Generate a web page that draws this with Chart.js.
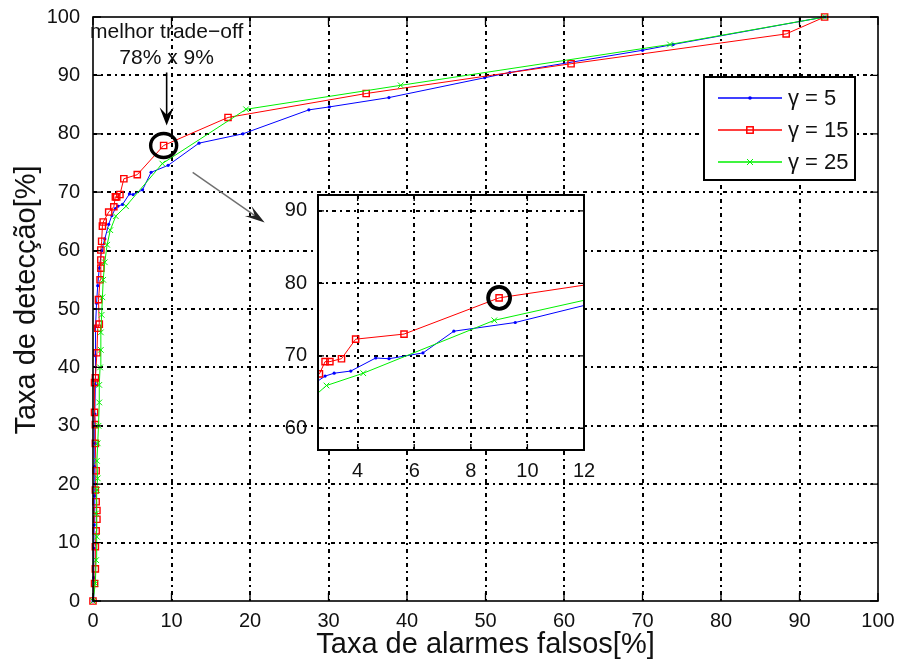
<!DOCTYPE html>
<html>
<head>
<meta charset="utf-8">
<script src="https://cdn.jsdelivr.net/npm/chart.js@4/dist/chart.umd.min.js"></script>
<style>
  html, body { margin: 0; padding: 0; background: #fff; }
  #wrap { position: relative; width: 900px; height: 665px; overflow: hidden; }
  #main { position: absolute; left: 0; top: 0; }
  #inset { position: absolute; left: 260px; top: 180px; }
</style>
</head>
<body>
<div id="wrap">
  <canvas id="main" width="900" height="665"></canvas>
  <canvas id="inset" width="340" height="305"></canvas>
</div>
<script>
// ROC-style curves: detection rate vs. false-alarm rate for three values of γ
const seriesLabels = ['γ = 5', 'γ = 15', 'γ = 25'];

// γ = 5
const falseAlarm5 = [0, 0.1, 0.1, 0.15, 0.2, 0.2, 0.25, 0.25, 0.3, 0.3, 0.35, 0.45, 0.6, 0.8, 1.1, 1.5, 2.0, 2.4,
  2.85, 3.17, 3.76, 4.64, 5.11, 6.31, 7.4, 9.57, 13.5, 19.1, 27.5, 30.1, 37.7, 49.9, 53.1, 70.0, 73.9, 93.2];
const detection5 = [0, 4, 9, 13, 18, 23, 27, 32, 37, 42, 47, 51, 54, 57, 60, 62, 64.5, 66,
  67.2, 67.6, 67.9, 69.7, 69.6, 70.4, 73.4, 74.6, 78.4, 80.0, 84.1, 84.6, 86.2, 89.6, 90.5, 94.3, 95.3, 100];

// γ = 15
const falseAlarm15 = [0, 0.2, 0.3, 0.3, 0.4, 0.5, 0.5, 0.4, 0.3, 0.4, 0.3, 0.3, 0.2, 0.2, 0.3, 0.5, 0.6, 0.8, 0.7,
  0.9, 1.0, 1.0, 1.0, 1.1, 1.2, 1.3, 2.0, 2.65, 2.85, 3.02, 3.43, 3.93, 5.64, 9, 17.2, 34.8, 60.9, 88.3, 93.2];
const detection15 = [0, 3, 5.5, 9.3, 12, 14, 15.5, 17, 19, 22.3, 27, 30.2, 32.3, 37.4, 38.2, 42.5, 46.7, 47.4, 51.6,
  55, 57, 58.4, 60.1, 61.6, 64.2, 64.9, 66.6, 67.5, 69.2, 69.2, 69.6, 72.3, 73.0, 78, 82.8, 86.9, 92.0, 97.1, 100];

// γ = 25
const falseAlarm25 = [0, 0.3, 0.4, 0.5, 0.4, 0.5, 0.6, 0.5, 0.6, 0.7, 0.8, 0.8, 0.9, 1.0, 1.0, 1.1, 1.2, 1.3,
  1.5, 1.8, 2.2, 2.9, 4.2, 8.83, 19.5, 39.2, 73.5, 93.2];
const detection25 = [0, 3, 7, 11, 15, 19, 21, 24, 27, 30, 34, 37, 40, 43, 46, 49, 52, 55,
  58, 61, 63.5, 65.9, 67.6, 74.9, 84.2, 88.3, 95.3, 100];

// highlighted operating point (detection 78 %, false alarms 9 %)
const bestFalseAlarm = 9;
const bestDetection = 78;
const bestLabel = ['melhor trade−off', '78% x 9%'];

// axis titles
const xTitle = 'Taxa de alarmes falsos[%]';
const yTitle = 'Taxa de detecção[%]';

// tick positions
const mainXTicks = [0, 10, 20, 30, 40, 50, 60, 70, 80, 90, 100];
const mainYTicks = [0, 10, 20, 30, 40, 50, 60, 70, 80, 90, 100];
const insetXTicks = [4, 6, 8, 10, 12];
const insetYTicks = [60, 70, 80, 90];

const FONT = "'Liberation Sans', Arial, Helvetica, sans-serif";
const INK = '#111';

const toPoints = (xs, ys) => xs.map((x, i) => ({ x, y: ys[i] }));

function makeDatasets(clip) {
  return [
    { label: seriesLabels[0], data: toPoints(falseAlarm5, detection5), borderColor: '#0000ff',
      backgroundColor: '#0000ff', borderWidth: 1, pointStyle: 'circle', pointRadius: 1.6,
      pointBorderWidth: 0, order: 2, clip },
    { label: seriesLabels[1], data: toPoints(falseAlarm15, detection15), borderColor: '#ff0000',
      backgroundColor: 'rgba(0,0,0,0)', borderWidth: 1, pointStyle: 'rect', pointRadius: 4.4,
      pointBorderWidth: 1.4, order: 1, clip },
    { label: seriesLabels[2], data: toPoints(falseAlarm25, detection25), borderColor: '#00f000',
      backgroundColor: '#00f000', borderWidth: 1, pointStyle: 'crossRot', pointRadius: 4,
      pointBorderWidth: 1, order: 0, clip }
  ];
}

function drawMarker(ctx, style, x, y, color) {
  ctx.save();
  ctx.strokeStyle = color; ctx.fillStyle = color; ctx.setLineDash([]);
  if (style === 'circle') {
    ctx.beginPath(); ctx.arc(x, y, 1.8, 0, Math.PI * 2); ctx.fill();
  } else if (style === 'rect') {
    ctx.lineWidth = 1.5; ctx.strokeRect(x - 3.2, y - 3.2, 6.4, 6.4);
  } else {
    ctx.lineWidth = 1; ctx.beginPath();
    ctx.moveTo(x - 3, y - 3); ctx.lineTo(x + 3, y + 3);
    ctx.moveTo(x + 3, y - 3); ctx.lineTo(x - 3, y + 3); ctx.stroke();
  }
  ctx.restore();
}

// dotted grid lines at the inner tick positions
function paintGridLines(chart, xt, yt) {
  const ctx = chart.ctx;
  const a = chart.chartArea;
  const xs = chart.scales.x, ys = chart.scales.y;
  ctx.save();
  ctx.strokeStyle = '#000';
  ctx.lineWidth = 2;
  ctx.setLineDash([4, 4, 2, 4]);
  for (const v of xt) {
    const px = Math.round(xs.getPixelForValue(v));
    if (px <= a.left + 2 || px >= a.right - 2) continue;
    ctx.beginPath(); ctx.moveTo(px, a.top); ctx.lineTo(px, a.bottom); ctx.stroke();
  }
  for (const v of yt) {
    const py = Math.round(ys.getPixelForValue(v));
    if (py <= a.top + 2 || py >= a.bottom - 2) continue;
    ctx.beginPath(); ctx.moveTo(a.left, py); ctx.lineTo(a.right, py); ctx.stroke();
  }
  ctx.restore();
}

// box and inward ticks on all four sides
function drawFrame(chart, xt, yt, len, lw) {
  const { ctx, chartArea: a, scales: { x, y } } = chart;
  ctx.save();
  ctx.strokeStyle = '#000'; ctx.lineWidth = lw; ctx.setLineDash([]);
  ctx.strokeRect(a.left, a.top, a.right - a.left, a.bottom - a.top);
  ctx.lineWidth = 1.3;
  ctx.beginPath();
  xt.forEach(v => {
    const px = x.getPixelForValue(v);
    ctx.moveTo(px, a.bottom); ctx.lineTo(px, a.bottom - len);
    ctx.moveTo(px, a.top); ctx.lineTo(px, a.top + len);
  });
  yt.forEach(v => {
    const py = y.getPixelForValue(v);
    ctx.moveTo(a.left, py); ctx.lineTo(a.left + len, py);
    ctx.moveTo(a.right, py); ctx.lineTo(a.right - len, py);
  });
  ctx.stroke();
  ctx.restore();
}

function arrowHead(ctx, tx, ty, ang, len, half) {
  const ux = Math.cos(ang), uy = Math.sin(ang);
  const bx = tx - ux * len, by = ty - uy * len;
  ctx.beginPath();
  ctx.moveTo(tx, ty);
  ctx.lineTo(bx - uy * half, by + ux * half);
  ctx.lineTo(tx - ux * len * 0.6, ty - uy * len * 0.6);
  ctx.lineTo(bx + uy * half, by - ux * half);
  ctx.closePath();
  ctx.fill();
}

const mainDecor = {
  id: 'mainDecor',
  beforeDraw(chart) { paintGridLines(chart, mainXTicks, mainYTicks); },
  afterDatasetsDraw(chart) {
    const { ctx, chartArea: a, scales: { x, y } } = chart;
    drawFrame(chart, mainXTicks, mainYTicks, 8, 1.6);

    // best operating point: ring, arrow and caption
    const cx = x.getPixelForValue(bestFalseAlarm);
    const cy = y.getPixelForValue(bestDetection);
    ctx.save();
    ctx.strokeStyle = '#000'; ctx.lineWidth = 3.4;
    ctx.beginPath(); ctx.ellipse(cx, cy, 13, 12, 0, 0, Math.PI * 2); ctx.stroke();

    const ax = cx + 3;
    ctx.lineWidth = 1.6;
    ctx.beginPath(); ctx.moveTo(ax, cy - 73); ctx.lineTo(ax, cy - 27); ctx.stroke();
    ctx.fillStyle = '#000';
    arrowHead(ctx, ax, cy - 20, Math.PI / 2, 18, 7);

    ctx.fillStyle = INK; ctx.textAlign = 'center'; ctx.textBaseline = 'middle';
    ctx.font = '21px ' + FONT;
    ctx.fillText(bestLabel[0], ax, cy - 113);
    ctx.fillText(bestLabel[1], ax, cy - 87);

    // pointer towards the zoomed view
    ctx.strokeStyle = '#707070'; ctx.lineWidth = 1.5;
    const sx = cx + 29, sy = cy + 27, ex = cx + 101, ey = cy + 77;
    ctx.beginPath(); ctx.moveTo(sx, sy); ctx.lineTo(ex - 8, ey - 5.5); ctx.stroke();
    ctx.fillStyle = '#222';
    arrowHead(ctx, ex, ey, Math.atan2(ey - sy, ex - sx), 20, 6);
    ctx.restore();

    // legend
    ctx.save();
    const bx = 704, by = 77, bw = 151, bh = 103;
    ctx.fillStyle = '#fff'; ctx.fillRect(bx, by, bw, bh);
    ctx.strokeStyle = '#000'; ctx.lineWidth = 2; ctx.strokeRect(bx, by, bw, bh);
    const ds = chart.data.datasets;
    const rows = [98, 130, 162];
    ds.forEach((d, i) => {
      const ry = rows[i];
      ctx.strokeStyle = d.borderColor; ctx.lineWidth = 1.4;
      ctx.beginPath(); ctx.moveTo(718, ry); ctx.lineTo(782, ry); ctx.stroke();
      drawMarker(ctx, d.pointStyle, 750, ry, d.borderColor);
      ctx.fillStyle = INK; ctx.font = '22px ' + FONT;
      ctx.textAlign = 'left'; ctx.textBaseline = 'middle';
      ctx.fillText(d.label, 788, ry + 1);
    });
    ctx.restore();

    // axis titles
    ctx.save();
    ctx.fillStyle = INK; ctx.font = '29px ' + FONT;
    ctx.textAlign = 'center'; ctx.textBaseline = 'middle';
    ctx.fillText(xTitle, (a.left + a.right) / 2, 645);
    ctx.translate(27, (a.top + a.bottom) / 2 - 9);
    ctx.rotate(-Math.PI / 2);
    ctx.fillText(yTitle, 0, 0);
    ctx.restore();
  }
};

const insetDecor = {
  id: 'insetDecor',
  beforeDraw(chart) {
    const { ctx, chartArea: a } = chart;
    ctx.save(); ctx.fillStyle = '#fff';
    ctx.fillRect(a.left, a.top, a.right - a.left, a.bottom - a.top);
    ctx.restore();
    paintGridLines(chart, insetXTicks, insetYTicks);
  },
  afterDatasetsDraw(chart) {
    const { ctx, scales: { x, y } } = chart;
    drawFrame(chart, insetXTicks, insetYTicks, 6, 2);
    const cx = x.getPixelForValue(bestFalseAlarm);
    const cy = y.getPixelForValue(bestDetection);
    ctx.save();
    ctx.strokeStyle = '#000'; ctx.lineWidth = 3.8;
    ctx.beginPath(); ctx.arc(cx, cy, 11, 0, Math.PI * 2); ctx.stroke();
    ctx.restore();
  }
};

const setTicks = list => scale => { scale.ticks = list.map(v => ({ value: v })); };

new Chart(document.getElementById('main'), {
  type: 'line',
  data: { datasets: makeDatasets(6) },
  plugins: [mainDecor],
  options: {
    responsive: false, animation: false, devicePixelRatio: 1,
    layout: { padding: { left: 0, top: 14, right: 22, bottom: 0 } },
    plugins: { legend: { display: false }, tooltip: { enabled: false } },
    scales: {
      x: {
        type: 'linear', min: 0, max: 100,
        afterBuildTicks: setTicks(mainXTicks),
        afterFit: s => { s.height = 64; },
        grid: { display: false }, border: { display: false },
        ticks: { color: INK, font: { family: FONT, size: 20 }, padding: 0, maxRotation: 0 }
      },
      y: {
        type: 'linear', min: 0, max: 100,
        afterBuildTicks: setTicks(mainYTicks),
        afterFit: s => { s.width = 93; },
        grid: { display: false }, border: { display: false },
        ticks: { color: INK, font: { family: FONT, size: 20 }, padding: 5 }
      }
    }
  }
});

new Chart(document.getElementById('inset'), {
  type: 'line',
  data: { datasets: makeDatasets(0) },
  plugins: [insetDecor],
  options: {
    responsive: false, animation: false, devicePixelRatio: 1,
    layout: { padding: { left: 0, top: 14, right: 16, bottom: 0 } },
    plugins: { legend: { display: false }, tooltip: { enabled: false } },
    scales: {
      x: {
        type: 'linear', min: 2.6, max: 12,
        afterBuildTicks: setTicks(insetXTicks),
        afterFit: s => { s.height = 35; },
        grid: { display: false }, border: { display: false },
        ticks: { color: INK, font: { family: FONT, size: 20 }, padding: 1, maxRotation: 0 }
      },
      y: {
        type: 'linear', min: 57, max: 92.2,
        afterBuildTicks: setTicks(insetYTicks),
        afterFit: s => { s.width = 58; },
        grid: { display: false }, border: { display: false },
        ticks: { color: INK, font: { family: FONT, size: 20 }, padding: 3 }
      }
    }
  }
});
</script>
</body>
</html>
